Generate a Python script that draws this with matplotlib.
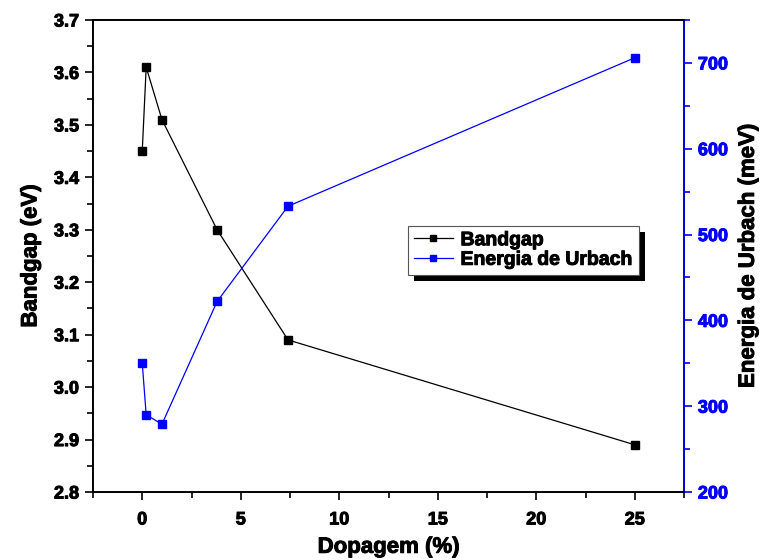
import matplotlib
matplotlib.use("Agg")
import matplotlib.pyplot as plt
import matplotlib.patheffects as pe
from matplotlib.patches import Rectangle
from matplotlib.ticker import MultipleLocator
from matplotlib.font_manager import FontProperties

plt.rcParams['font.family'] = ['Liberation Sans', 'DejaVu Sans']
plt.rcParams['font.weight'] = 'bold'

# Doping level (%) and measured properties
dopagem = [0.0, 0.2, 1.0, 3.8, 7.4, 25.0]
bandgap = [3.45, 3.61, 3.51, 3.30, 3.09, 2.89]
urbach = [350, 290, 279, 422, 533, 706]

fig = plt.figure(figsize=(7.74, 5.6), dpi=100)
ax = fig.add_axes([93 / 774, 68 / 560, 591 / 774, 472 / 560])
ax2 = ax.twinx()
topax = ax.twiny()
topax.set_zorder(-1)

l1, = ax.plot(dopagem, bandgap, color='black', lw=0.9, marker='s',
              markersize=6, label='Bandgap')
l2, = ax2.plot(dopagem, urbach, color='blue', lw=0.9, marker='s',
               markersize=6, label='Energia de Urbach')

ax.set_xlim(-2.5, 27.5)
topax.set_xlim(-2.5, 27.5)
ax.set_ylim(2.8, 3.7)
ax2.set_ylim(200, 750)

for a in (ax, topax):
    a.xaxis.set_major_locator(MultipleLocator(5))
    a.xaxis.set_minor_locator(MultipleLocator(2.5))
ax.yaxis.set_major_locator(MultipleLocator(0.1))
ax.yaxis.set_minor_locator(MultipleLocator(0.05))
ax2.yaxis.set_major_locator(MultipleLocator(100))
ax2.yaxis.set_minor_locator(MultipleLocator(50))

ax.tick_params(axis='x', which='both', direction='out', top=False,
               width=1.2, pad=8)
ax.tick_params(axis='y', which='both', direction='out', width=1.2, pad=4)
ax2.tick_params(axis='y', which='both', direction='out', colors='blue',
                width=1.2, pad=4)
topax.tick_params(axis='x', which='both', direction='in', labeltop=False,
                  width=1.2)
for a, axis in ((ax, 'both'), (ax2, 'y'), (topax, 'x')):
    a.tick_params(axis=axis, which='major', length=6)
    a.tick_params(axis=axis, which='minor', length=4)

for a in (ax, ax2, topax):
    for s in a.spines.values():
        s.set_linewidth(1.2)
ax2.spines['right'].set_color('blue')

def heavy(color):
    return [pe.withStroke(linewidth=0.7, foreground=color)]

ax.set_xlabel('Dopagem (%)', fontsize=16, fontweight='bold', labelpad=6,
              path_effects=heavy('black'))
ax.set_ylabel('Bandgap (eV)', fontsize=16, fontweight='bold', labelpad=9,
              path_effects=heavy('black'))
ax2.set_ylabel('Energia de Urbach (meV)', fontsize=16, fontweight='bold',
               labelpad=7, path_effects=heavy('black'))

leg = ax2.legend(handles=[l1, l2], loc='upper left',
                 bbox_to_anchor=(0.533, 0.564), borderaxespad=0,
                 fancybox=False, framealpha=1, edgecolor='#555555',
                 prop={'family': 'Liberation Sans', 'size': 14,
                       'weight': 'bold'},
                 handlelength=2.0, handletextpad=0.4, borderpad=0.3,
                 labelspacing=0.1, markerscale=0.75)
leg.get_frame().set_linewidth(0.8)
leg.set_zorder(10)
for t in leg.get_texts():
    t.set_path_effects(heavy('black'))

fig.canvas.draw()
tick_font = FontProperties(family='Liberation Sans', weight='bold', size=13)
for lab in ax.get_xticklabels() + ax.get_yticklabels():
    lab.set_fontproperties(tick_font)
    lab.set_path_effects(heavy('black'))
for lab in ax2.get_yticklabels():
    lab.set_fontproperties(tick_font)
    lab.set_path_effects(heavy('blue'))
fig.canvas.draw()

bb = leg.get_window_extent()
shadow = Rectangle((bb.x0 + 6, bb.y0 - 6), bb.width, bb.height,
                   transform=None, facecolor='black', edgecolor='none',
                   zorder=9, clip_on=False)
ax2.add_artist(shadow)

fig.savefig('out.png', dpi=100)
